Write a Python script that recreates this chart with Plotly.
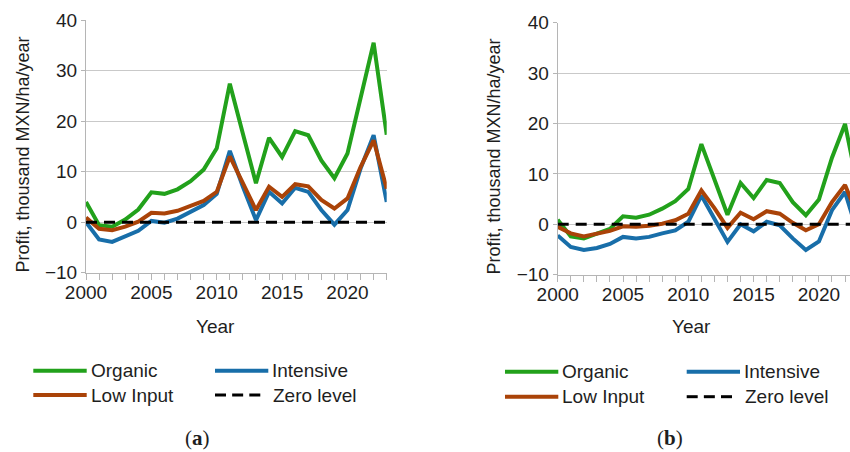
import plotly.graph_objects as go

years = list(range(2000, 2024))

# Panel (a)
organic_a = [4.0, -0.6, -0.9, 0.5, 2.5, 5.9, 5.6, 6.5, 8.1, 10.4, 14.6, 27.4,
             17.5, 7.7, 16.7, 12.9, 18.0, 17.2, 12.2, 8.7, 13.6, 24.8, 35.5, 17.3]
intensive_a = [0.0, -3.4, -3.9, -2.9, -1.7, 0.25, -0.1, 0.7, 2.0, 3.4, 5.6, 14.1,
               7.0, 0.4, 6.0, 3.7, 6.8, 6.0, 2.4, -0.5, 2.4, 10.6, 17.2, 4.0]
lowinput_a = [0.9, -1.3, -1.6, -0.9, 0.1, 1.85, 1.7, 2.25, 3.2, 4.2, 6.0, 13.0,
              7.7, 2.4, 7.0, 5.0, 7.5, 7.1, 4.4, 2.7, 4.7, 10.9, 16.2, 6.6]

# Panel (b)
organic_b = [0.9, -2.4, -2.8, -1.8, -0.9, 1.6, 1.3, 1.9, 3.1, 4.6, 7.0, 15.9,
             9.0, 1.9, 8.2, 5.2, 8.8, 8.2, 4.4, 1.8, 4.9, 13.2, 19.9, 7.0]
intensive_b = [-2.2, -4.5, -5.1, -4.7, -3.9, -2.5, -2.8, -2.5, -1.8, -1.2, 0.5, 5.7,
               1.1, -3.5, 0.0, -1.4, 0.5, -0.2, -2.8, -5.1, -3.4, 2.8, 6.4, -2.0]
lowinput_b = [-0.5, -1.8, -2.4, -1.8, -1.3, -0.4, -0.5, -0.3, 0.1, 0.8, 2.1, 6.7,
              3.2, -0.7, 2.3, 1.0, 2.6, 2.1, 0.3, -1.2, 0.0, 4.4, 7.8, 1.5]

zero_level = [0.0] * len(years)

series_names = ["Organic", "Intensive", "Low Input", "Zero level"]
x_tick_labels = [2000, 2005, 2010, 2015, 2020]
y_tick_labels = [-10, 0, 10, 20, 30, 40]

GREEN = "#22a11b"
BLUE = "#186ea9"
BROWN = "#aa4308"
BLACK = "#000000"
TXT = "#1e1e1e"
GRID = "#c9c9c9"
AXL = "#b5b5b5"
FONT = "Liberation Sans, Arial, sans-serif"

W, H = 850, 452


def px(x):
    return x / W


def py(y):
    return 1 - y / H


fig = go.Figure()

panels = [
    ("x", "y", organic_a, intensive_a, lowinput_a),
    ("x2", "y2", organic_b, intensive_b, lowinput_b),
]
for xa, ya, org, inten, low in panels:
    fig.add_trace(go.Scatter(x=years, y=org, mode="lines", xaxis=xa, yaxis=ya,
                             line=dict(color=GREEN, width=4), name=series_names[0],
                             showlegend=False))
    fig.add_trace(go.Scatter(x=years, y=inten, mode="lines", xaxis=xa, yaxis=ya,
                             line=dict(color=BLUE, width=4), name=series_names[1],
                             showlegend=False))
    fig.add_trace(go.Scatter(x=years, y=low, mode="lines", xaxis=xa, yaxis=ya,
                             line=dict(color=BROWN, width=4), name=series_names[2],
                             showlegend=False))
    fig.add_trace(go.Scatter(x=years, y=zero_level, mode="lines", xaxis=xa, yaxis=ya,
                             line=dict(color=BLACK, width=3, dash="11px,7px"),
                             name=series_names[3], showlegend=False))

xaxis_common = dict(
    tickvals=x_tick_labels, ticks="outside", ticklen=6, tickcolor=AXL, tickwidth=1,
    minor=dict(dtick=1, tick0=2000, ticks="outside", ticklen=6, tickcolor=AXL,
               showgrid=False),
    showline=True, linecolor=AXL, linewidth=1, showgrid=False, zeroline=False,
    tickfont=dict(family=FONT, size=19, color=TXT), automargin=False,
    ticklabelstandoff=-4,
)
yaxis_common = dict(
    tickvals=y_tick_labels, ticks="outside", ticklen=4, tickcolor=AXL,
    showline=True, linecolor=AXL, linewidth=1, showgrid=True, gridcolor=GRID,
    gridwidth=1, zeroline=False, range=[-10, 40],
    tickfont=dict(family=FONT, size=19, color=TXT), automargin=False,
)

fig.update_layout(
    width=W, height=H, template="none",
    margin=dict(l=0, r=0, t=0, b=0),
    paper_bgcolor="white", plot_bgcolor="white",
    showlegend=False,
    xaxis=dict(domain=[px(86), px(386.7)], range=[2000, 2023], anchor="y", **xaxis_common),
    yaxis=dict(domain=[py(272.7), py(20)], anchor="x", **yaxis_common),
    xaxis2=dict(domain=[px(557.7), 1.0], range=[2000, 2022.38], anchor="y2", **xaxis_common),
    yaxis2=dict(domain=[py(274.7), py(22.7)], anchor="x2", **yaxis_common),
)

annotations = []
shapes = []

# Axis titles
for cx, cy in [(22.5, 155), (493.5, 157)]:
    annotations.append(dict(x=px(cx), y=py(cy), xref="paper", yref="paper",
                            text="Profit, thousand MXN/ha/year", textangle=-90,
                            showarrow=False, xanchor="center", yanchor="middle",
                            font=dict(family=FONT, size=18, color=TXT)))
for cx, cy in [(215.7, 326.7), (691, 326.7)]:
    annotations.append(dict(x=px(cx), y=py(cy), xref="paper", yref="paper",
                            text="Year", showarrow=False, xanchor="center",
                            yanchor="middle", font=dict(family=FONT, size=19, color=TXT)))

# Panel labels
for cx, lab in [(197.7, "a"), (670, "b")]:
    annotations.append(dict(x=px(cx), y=py(438), xref="paper", yref="paper",
                            text="(<b>%s</b>)" % lab, showarrow=False,
                            xanchor="center", yanchor="middle",
                            font=dict(family="Liberation Serif, Times New Roman, serif",
                                      size=21, color=TXT)))

# Manual legends
legend_sets = [
    (33.3, 86.7, 215, 268.3, 370.7, 395),
    (505, 558.3, 686.7, 740, 371.7, 396.7),
]
for c1a, c1b, c2a, c2b, r1, r2 in legend_sets:
    items = [
        (c1a, c1b, r1, GREEN, series_names[0]),
        (c2a, c2b, r1, BLUE, series_names[1]),
        (c1a, c1b, r2, BROWN, series_names[2]),
        (c2a, c2b - 8, r2, BLACK, series_names[3]),
    ]
    for x0, x1, yy, col, name in items:
        if name == "Zero level":
            seg = 11
            gap = (x1 - x0 - 3 * seg) / 2
            for k in range(3):
                s0 = x0 + k * (seg + gap)
                shapes.append(dict(type="line", xref="paper", yref="paper",
                                   x0=px(s0), x1=px(s0 + seg), y0=py(yy), y1=py(yy),
                                   line=dict(color=col, width=3)))
            tx = c2b + 2.5
        else:
            shapes.append(dict(type="line", xref="paper", yref="paper",
                               x0=px(x0), x1=px(x1), y0=py(yy), y1=py(yy),
                               line=dict(color=col, width=4)))
            tx = x1 + 2
        annotations.append(dict(x=px(tx), y=py(yy), xref="paper", yref="paper",
                                text=name, showarrow=False, xanchor="left",
                                yanchor="middle",
                                font=dict(family=FONT, size=19, color=TXT)))

fig.update_layout(annotations=annotations, shapes=shapes)

fig.write_html("out.html", config={"displayModeBar": False},
               post_script="document.body.style.margin='0';document.body.style.padding='0';document.documentElement.style.overflow='hidden';")
